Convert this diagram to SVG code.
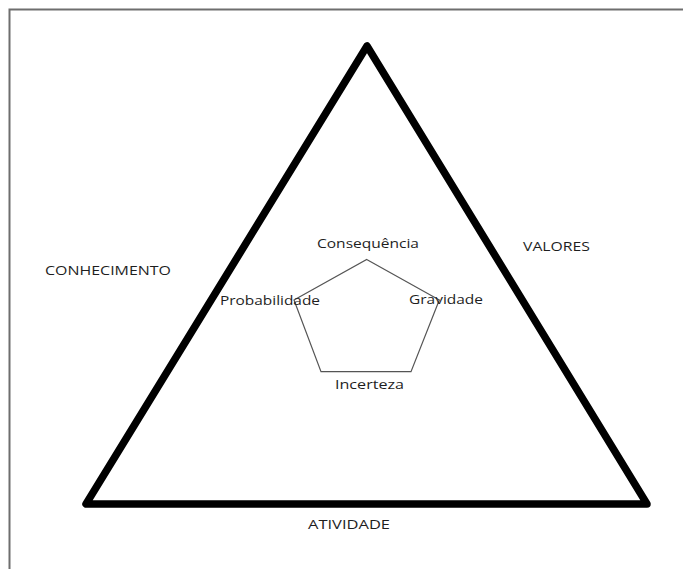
<svg xmlns="http://www.w3.org/2000/svg" width="683" height="569" viewBox="0 0 683 569">
<style>
.lbl{font-family:"Open Sans","Liberation Sans",sans-serif;font-size:13px;fill:#1e1e1e;text-anchor:middle}
</style>
<rect x="0" y="0" width="683" height="569" fill="#ffffff"/>
<g id="frame">
<path d="M9.5,569 V9.5 H683" fill="none" stroke="#6e6e6e" stroke-width="2"/>
</g>
<g id="connectors">
<polygon id="triangle" points="367,46 86,504 647,504" fill="none" stroke="#000" stroke-width="7.5" stroke-linejoin="round"/>
<polygon id="pentagon" points="366.7,259.5 439.3,300 411,371.7 321,371.7 294,300" fill="none" stroke="#555" stroke-width="1.2"/>
</g>
<g id="n-conhecimento"><text class="lbl" x="108" y="275" textLength="126" lengthAdjust="spacingAndGlyphs">CONHECIMENTO</text></g>
<g id="n-valores"><text class="lbl" x="556.5" y="251" textLength="67" lengthAdjust="spacingAndGlyphs">VALORES</text></g>
<g id="n-atividade"><text class="lbl" x="349" y="529" textLength="82" lengthAdjust="spacingAndGlyphs">ATIVIDADE</text></g>
<g id="n-consequencia"><text class="lbl" x="368" y="248" textLength="102" lengthAdjust="spacingAndGlyphs">Consequência</text></g>
<g id="n-probabilidade"><text class="lbl" x="270" y="305" textLength="100" lengthAdjust="spacingAndGlyphs">Probabilidade</text></g>
<g id="n-gravidade"><text class="lbl" x="446" y="304" textLength="74" lengthAdjust="spacingAndGlyphs">Gravidade</text></g>
<g id="n-incerteza"><text class="lbl" x="369.5" y="389" textLength="69" lengthAdjust="spacingAndGlyphs">Incerteza</text></g>
</svg>
